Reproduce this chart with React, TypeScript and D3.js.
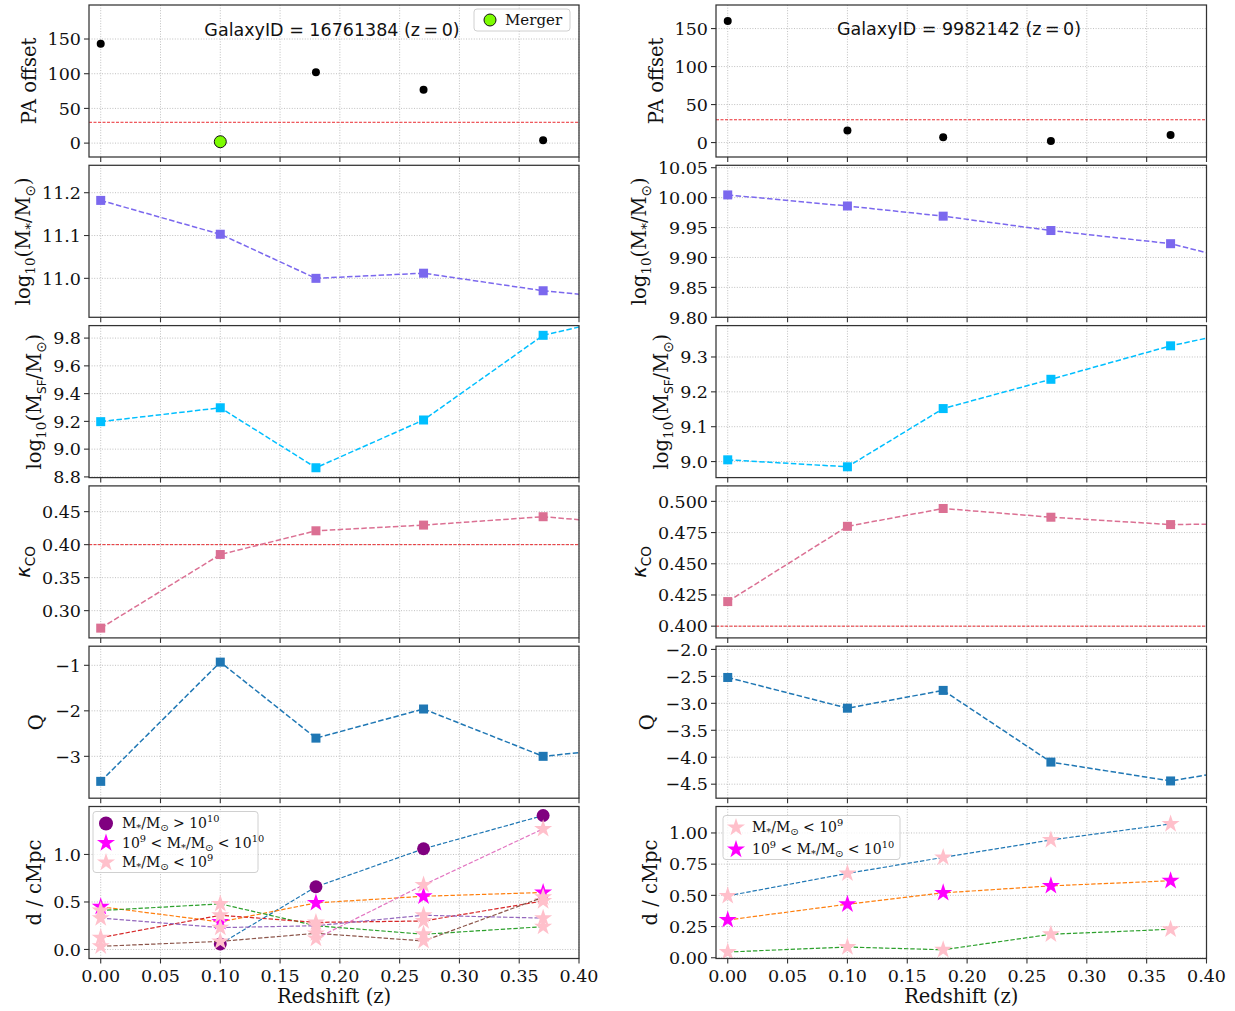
import React from 'react';
import * as d3 from 'd3';

// ---------------- DATA ----------------
const Z = [0, 0.1, 0.18, 0.27, 0.37];
const Z_EXT = [0, 0.1, 0.18, 0.27, 0.37, 0.5];
const X_TICKS = [0, 0.05, 0.1, 0.15, 0.2, 0.25, 0.3, 0.35, 0.4];

// GalaxyID 16761384
const paL = [143, 2, 102, 77, 4];
const mergerL = [false, true, false, false, false];
const mstarL = [11.182, 11.103, 11.0, 11.012, 10.971, 10.936];
const msfL = [9.198, 9.298, 8.866, 9.21, 9.82, 10.08];
const kappaL = [0.2735, 0.385, 0.421, 0.4296, 0.4423, 0.4228];
const qL = [-3.55, -0.93, -2.6, -1.96, -3.0, -2.65];

// GalaxyID 9982142
const paR = [160, 16, 7, 2, 10];
const mergerR = [false, false, false, false, false];
const mstarR = [10.0045, 9.986, 9.969, 9.945, 9.923, 9.858];
const msfR = [9.005, 8.985, 9.152, 9.236, 9.332, 9.427];
const kappaR = [0.4197, 0.48, 0.4943, 0.4873, 0.4814, 0.4827];
const qR = [-2.52, -3.09, -2.76, -4.09, -4.44, -3.96];

// Neighbour distances (cMpc); class: hi = >1e10, mid = 1e9..1e10, lo = <1e9
const nbL = [
  { color: '#1f77b4', z: [0.1, 0.18, 0.27, 0.37], d: [0.058, 0.66, 1.06, 1.41], cls: ['hi', 'hi', 'hi', 'hi'] },
  { color: '#ff7f0e', z: Z, d: [0.45, 0.29, 0.49, 0.56, 0.6], cls: ['mid', 'mid', 'mid', 'mid', 'mid'] },
  { color: '#2ca02c', z: Z, d: [0.41, 0.48, 0.25, 0.16, 0.24], cls: ['lo', 'lo', 'lo', 'lo', 'lo'] },
  { color: '#d62728', z: Z, d: [0.125, 0.36, 0.285, 0.3, 0.51], cls: ['lo', 'lo', 'lo', 'lo', 'lo'] },
  { color: '#9467bd', z: Z, d: [0.33, 0.23, 0.25, 0.36, 0.33], cls: ['lo', 'lo', 'lo', 'lo', 'lo'] },
  { color: '#8c564b', z: Z, d: [0.034, 0.085, 0.17, 0.09, 0.55], cls: ['lo', 'lo', 'lo', 'lo', 'lo'] },
  { color: '#e377c2', z: [0.18, 0.27, 0.37], d: [0.115, 0.68, 1.27], cls: ['lo', 'lo', 'lo'] },
];
const nbR = [
  { color: '#1f77b4', z: Z, d: [0.496, 0.676, 0.804, 0.944, 1.072], cls: ['lo', 'lo', 'lo', 'lo', 'lo'] },
  { color: '#ff7f0e', z: Z, d: [0.303, 0.429, 0.52, 0.576, 0.617], cls: ['mid', 'mid', 'mid', 'mid', 'mid'] },
  { color: '#2ca02c', z: Z, d: [0.046, 0.086, 0.064, 0.188, 0.228], cls: ['lo', 'lo', 'lo', 'lo', 'lo'] },
];

const TITLE_L = 'GalaxyID = 16761384 (z\u2009=\u20090)';
const TITLE_R = 'GalaxyID = 9982142 (z\u2009=\u20090)';

// ---------------- STYLE / LAYOUT ----------------
const SERIF = "'DejaVu Serif', serif";
const SANS = "'DejaVu Sans', sans-serif";
const TICK_FS = 17.5;
const LABEL_FS = 19.5;
const SPINE = '#333';
const COLS = [
  { left: 89, right: 579 },
  { left: 716, right: 1206.5 },
];
const ROW_TOP0 = 5;
const ROW_STEP = 160.3;
const ROW_H = 152;
const X_DOMAIN: [number, number] = [-0.0098, 0.4];

const CLS_STYLE: Record<string, { shape: string; fill: string; size: number }> = {
  hi: { shape: 'circle', fill: '#800080', size: 6.5 },
  mid: { shape: 'star', fill: '#ff00ff', size: 9.5 },
  lo: { shape: 'star', fill: '#ffc0cb', size: 9.5 },
};

function textW(s: string) {
  let w = 0;
  for (const c of s) w += c === '.' ? 0.318 : c === '\u2212' ? 0.838 : 0.636;
  return w;
}
function fmt(v: number, dec: number) {
  const s = Math.abs(v) < 1e-9 ? (0).toFixed(dec) : v.toFixed(dec);
  return s.replace('-', '\u2212');
}

const starPath = (r: number) => d3.symbol().type(d3.symbolStar).size((r * r) / 0.8908130915)();

function Marker({ x, y, shape, fill, size, stroke }: any) {
  if (shape === 'circle') return <circle cx={x} cy={y} r={size} fill={fill} stroke={stroke || 'none'} strokeWidth={1} />;
  if (shape === 'square')
    return <rect x={x - size} y={y - size} width={size * 2} height={size * 2} fill={fill} />;
  return <path d={starPath(size) as string} transform={`translate(${x},${y})`} fill={fill} />;
}

// rich text made of segments with baseline offsets
type Seg = { t: string; off?: number; size?: string; fam?: string; style?: string };
function Rich({ segs }: { segs: Seg[] }) {
  let cur = 0;
  return (
    <>
      {segs.map((s, i) => {
        const off = s.off || 0;
        const dy = off - cur;
        cur = off;
        return (
          <tspan key={i} dy={dy !== 0 ? dy : undefined} fontSize={s.size} fontFamily={s.fam} fontStyle={s.style}>
            {s.t}
          </tspan>
        );
      })}
    </>
  );
}

const SUBSZ = '0.7em';
const LabelMstar = (
  <Rich
    segs={[
      { t: 'log' },
      { t: '10', off: 5, size: SUBSZ },
      { t: '(M' },
      { t: '*', off: 5, size: SUBSZ },
      { t: '/M' },
      { t: '\u2299', off: 5, size: SUBSZ, fam: SANS },
      { t: ')' },
    ]}
  />
);
const LabelMsf = (
  <Rich
    segs={[
      { t: 'log' },
      { t: '10', off: 5, size: SUBSZ },
      { t: '(M' },
      { t: 'SF', off: 5, size: '0.62em', fam: SANS },
      { t: '/M' },
      { t: '\u2299', off: 5, size: SUBSZ, fam: SANS },
      { t: ')' },
    ]}
  />
);
const LabelKappa = (
  <Rich
    segs={[
      { t: 'κ', fam: SANS, style: 'italic' },
      { t: 'CO', off: 5, size: SUBSZ, fam: SANS },
    ]}
  />
);

const MS: Seg[] = [
  { t: 'M' },
  { t: '*', off: 3, size: SUBSZ },
  { t: '/M' },
  { t: '\u2299', off: 3, size: SUBSZ, fam: SANS },
];
const MASS_TEXT: Record<string, Seg[]> = {
  hi: [...MS, { t: ' > 10' }, { t: '10', off: -6, size: SUBSZ }],
  mid: [{ t: '10' }, { t: '9', off: -6, size: SUBSZ }, { t: ' < ' }, ...MS, { t: ' < 10' }, { t: '10', off: -6, size: SUBSZ }],
  lo: [...MS, { t: ' < 10' }, { t: '9', off: -6, size: SUBSZ }],
};

type AxProps = {
  col: number;
  row: number;
  yDomain: [number, number];
  yTicks: number[];
  dec: number;
  ylabel: React.ReactNode;
  showX?: boolean;
  id: string;
  render: (xs: d3.ScaleLinear<number, number>, ys: d3.ScaleLinear<number, number>) => React.ReactNode;
};

function Axes({ col, row, yDomain, yTicks, dec, ylabel, showX, id, render }: AxProps) {
  const { left, right } = COLS[col];
  const top = ROW_TOP0 + row * ROW_STEP;
  const bottom = top + ROW_H;
  const xs = d3.scaleLinear().domain(X_DOMAIN).range([left, right]);
  const ys = d3.scaleLinear().domain(yDomain).range([bottom, top]);
  const maxW = Math.max(...yTicks.map((t) => textW(fmt(t, dec)))) * TICK_FS;
  const labelX = left - 5 - 4 - maxW - 6 - 5;
  return (
    <g>
      <defs>
        <clipPath id={id}>
          <rect x={left} y={top} width={right - left} height={bottom - top} />
        </clipPath>
      </defs>
      <g stroke="#b0b0b0" strokeWidth={0.8} strokeDasharray="1 1.6">
        {X_TICKS.map((t) => (
          <line key={'gx' + t} x1={xs(t)} x2={xs(t)} y1={top} y2={bottom} />
        ))}
        {yTicks.map((t) => (
          <line key={'gy' + t} x1={left} x2={right} y1={ys(t)} y2={ys(t)} />
        ))}
      </g>
      <g clipPath={`url(#${id})`}>{render(xs, ys)}</g>
      <rect x={left} y={top} width={right - left} height={bottom - top} fill="none" stroke={SPINE} strokeWidth={1.25} />
      {X_TICKS.map((t) => (
        <line key={'tx' + t} x1={xs(t)} x2={xs(t)} y1={bottom} y2={bottom + 5} stroke={SPINE} strokeWidth={1.1} />
      ))}
      {showX &&
        X_TICKS.map((t) => (
          <text key={'lx' + t} x={xs(t)} y={bottom + 23} textAnchor="middle" fontFamily={SERIF} fontSize={TICK_FS} fill="#111">
            {fmt(t, 2)}
          </text>
        ))}
      {showX && (
        <text x={(left + right) / 2} y={bottom + 44} textAnchor="middle" fontFamily={SERIF} fontSize={LABEL_FS} fill="#111">
          Redshift (z)
        </text>
      )}
      {yTicks.map((t) => (
        <g key={'ty' + t}>
          <line x1={left - 5} x2={left} y1={ys(t)} y2={ys(t)} stroke={SPINE} strokeWidth={1.1} />
          <text x={left - 8} y={ys(t)} dy="0.36em" textAnchor="end" fontFamily={SERIF} fontSize={TICK_FS} fill="#111">
            {fmt(t, dec)}
          </text>
        </g>
      ))}
      <text
        transform={`translate(${labelX},${(top + bottom) / 2}) rotate(-90)`}
        textAnchor="middle"
        fontFamily={SERIF}
        fontSize={LABEL_FS}
        fill="#111"
      >
        {ylabel}
      </text>
    </g>
  );
}

function lineOf(xs: any, ys: any, zz: number[], vv: number[]) {
  return d3
    .line<number>()
    .x((_, i) => xs(zz[i]))
    .y((v) => ys(v))(vv) as string;
}

function paRender(pa: number[], merger: boolean[]) {
  return (xs: any, ys: any) => (
    <g>
      <line x1={xs(X_DOMAIN[0])} x2={xs(X_DOMAIN[1])} y1={ys(30)} y2={ys(30)} stroke="#e8141a" strokeWidth={0.9} strokeDasharray="3 1.5" />
      {pa.map((v, i) =>
        merger[i] ? (
          <circle key={i} cx={xs(Z[i])} cy={ys(v)} r={6} fill="#7cfc00" stroke="#111" strokeWidth={1} />
        ) : (
          <circle key={i} cx={xs(Z[i])} cy={ys(v)} r={4} fill="#000" />
        )
      )}
    </g>
  );
}

function seriesRender(vals: number[], color: string, thresh?: number) {
  return (xs: any, ys: any) => (
    <g>
      {thresh !== undefined && (
        <line x1={xs(X_DOMAIN[0])} x2={xs(X_DOMAIN[1])} y1={ys(thresh)} y2={ys(thresh)} stroke="#e8141a" strokeWidth={0.9} strokeDasharray="3 1.5" />
      )}
      <path d={lineOf(xs, ys, Z_EXT, vals)} fill="none" stroke={color} strokeWidth={1.5} strokeDasharray="5.5 2.4" />
      {vals.map((v, i) => (
        <Marker key={i} x={xs(Z_EXT[i])} y={ys(v)} shape="square" fill={color} size={4.5} />
      ))}
    </g>
  );
}

function nbRender(nb: typeof nbL) {
  return (xs: any, ys: any) => (
    <g>
      {nb.map((s, k) => (
        <g key={k}>
          <path d={lineOf(xs, ys, s.z, s.d)} fill="none" stroke={s.color} strokeWidth={1.2} strokeDasharray="4.4 1.9" />
          {s.d.map((v, i) => {
            const st = CLS_STYLE[s.cls[i]];
            return <Marker key={i} x={xs(s.z[i])} y={ys(v)} shape={st.shape} fill={st.fill} size={st.size} />;
          })}
        </g>
      ))}
    </g>
  );
}

function Legend({ x, y, w, h, items }: { x: number; y: number; w: number; h: number; items: string[] }) {
  return (
    <g>
      <rect x={x} y={y} width={w} height={h} rx={3} fill="#fff" fillOpacity={0.8} stroke="#d0d0d0" strokeWidth={1} />
      {items.map((k, i) => {
        const st = CLS_STYLE[k];
        const cy = y + 12 + i * ((h - 22) / Math.max(1, items.length - 1));
        return (
          <g key={k}>
            <Marker x={x + 13} y={cy} shape={st.shape} fill={st.fill} size={st.shape === 'circle' ? 7 : 9.5} />
            <text x={x + 29} y={cy} dy="0.35em" fontFamily={SERIF} fontSize={14} fill="#111">
              <Rich segs={MASS_TEXT[k]} />
            </text>
          </g>
        );
      })}
    </g>
  );
}

export default function App() {
  const rowTop = (r: number) => ROW_TOP0 + r * ROW_STEP;
  return (
    <svg width={1235} height={1011} style={{ position: 'absolute', left: 0, top: 0, background: '#fff' }}>
      <rect width={1235} height={1011} fill="#fff" />
      <Axes col={0} row={0} id="c00" yDomain={[-20, 199]} yTicks={[0, 50, 100, 150]} dec={0} ylabel="PA offset" render={paRender(paL, mergerL)} />
      <Axes col={0} row={1} id="c01" yDomain={[10.909, 11.264]} yTicks={[11.0, 11.1, 11.2]} dec={1} ylabel={LabelMstar} render={seriesRender(mstarL, '#7b68ee')} />
      <Axes col={0} row={2} id="c02" yDomain={[8.795, 9.89]} yTicks={[8.8, 9.0, 9.2, 9.4, 9.6, 9.8]} dec={1} ylabel={LabelMsf} render={seriesRender(msfL, '#00bfff')} />
      <Axes col={0} row={3} id="c03" yDomain={[0.2587, 0.489]} yTicks={[0.3, 0.35, 0.4, 0.45]} dec={2} ylabel={LabelKappa} render={seriesRender(kappaL, '#db7093', 0.4)} />
      <Axes col={0} row={4} id="c04" yDomain={[-3.92, -0.58]} yTicks={[-3, -2, -1]} dec={0} ylabel="Q" render={seriesRender(qL, '#1f77b4')} />
      <Axes col={0} row={5} id="c05" yDomain={[-0.095, 1.505]} yTicks={[0, 0.5, 1.0]} dec={1} ylabel="d / cMpc" showX render={nbRender(nbL)} />

      <Axes col={1} row={0} id="c10" yDomain={[-19, 181]} yTicks={[0, 50, 100, 150]} dec={0} ylabel="PA offset" render={paRender(paR, mergerR)} />
      <Axes col={1} row={1} id="c11" yDomain={[9.8, 10.054]} yTicks={[9.8, 9.85, 9.9, 9.95, 10.0, 10.05]} dec={2} ylabel={LabelMstar} render={seriesRender(mstarR, '#7b68ee')} />
      <Axes col={1} row={2} id="c12" yDomain={[8.954, 9.39]} yTicks={[9.0, 9.1, 9.2, 9.3]} dec={1} ylabel={LabelMsf} render={seriesRender(msfR, '#00bfff')} />
      <Axes col={1} row={3} id="c13" yDomain={[0.3906, 0.5124]} yTicks={[0.4, 0.425, 0.45, 0.475, 0.5]} dec={3} ylabel={LabelKappa} render={seriesRender(kappaR, '#db7093', 0.4)} />
      <Axes col={1} row={4} id="c14" yDomain={[-4.76, -1.94]} yTicks={[-4.5, -4.0, -3.5, -3.0, -2.5, -2.0]} dec={1} ylabel="Q" render={seriesRender(qR, '#1f77b4')} />
      <Axes col={1} row={5} id="c15" yDomain={[-0.006, 1.212]} yTicks={[0, 0.25, 0.5, 0.75, 1.0]} dec={2} ylabel="d / cMpc" showX render={nbRender(nbR)} />

      <text x={332} y={36} textAnchor="middle" fontFamily={SANS} fontSize={17.5} fill="#111">
        {TITLE_L}
      </text>
      <text x={959} y={35} textAnchor="middle" fontFamily={SANS} fontSize={17.5} fill="#111">
        {TITLE_R}
      </text>

      <g>
        <rect x={474} y={rowTop(0) + 4} width={96} height={22} rx={3} fill="#fff" fillOpacity={0.8} stroke="#d0d0d0" />
        <circle cx={490} cy={rowTop(0) + 15} r={6} fill="#7cfc00" stroke="#111" strokeWidth={1} />
        <text x={505} y={rowTop(0) + 15} dy="0.35em" fontFamily={SERIF} fontSize={15} fill="#111">
          Merger
        </text>
      </g>

      <Legend x={93} y={rowTop(5) + 5} w={165} h={61} items={['hi', 'mid', 'lo']} />
      <Legend x={723} y={rowTop(5) + 9} w={177} h={44} items={['lo', 'mid']} />
    </svg>
  );
}
